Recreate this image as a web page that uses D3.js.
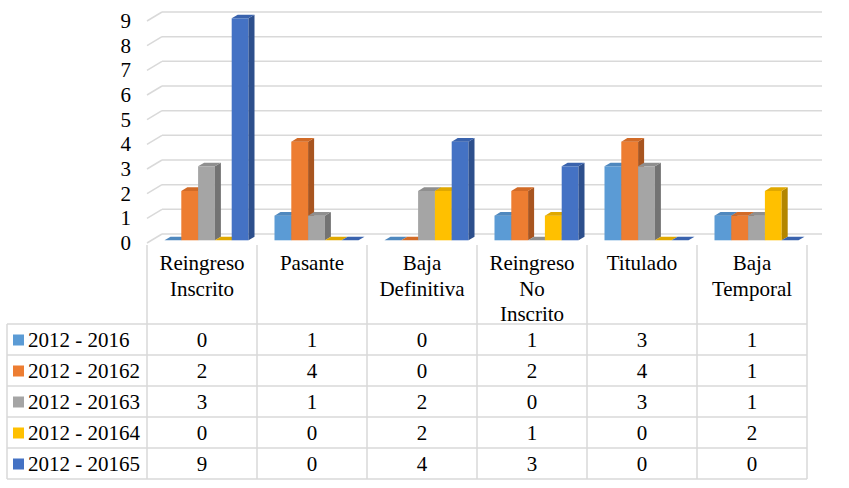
<!DOCTYPE html>
<html>
<head>
<meta charset="utf-8">
<script src="https://cdn.jsdelivr.net/npm/d3@7"></script>
<style>
  body { margin: 0; background: #fff; }
</style>
</head>
<body>
<svg id="chart"></svg>
<script>
const categories = ["Reingreso Inscrito", "Pasante", "Baja Definitiva", "Reingreso No Inscrito", "Titulado", "Baja Temporal"];
const categoryLines = [["Reingreso", "Inscrito"], ["Pasante"], ["Baja", "Definitiva"], ["Reingreso", "No", "Inscrito"], ["Titulado"], ["Baja", "Temporal"]];
const seriesNames = ["2012 - 2016", "2012 - 20162", "2012 - 20163", "2012 - 20164", "2012 - 20165"];
const s1 = [0, 1, 0, 1, 3, 1];
const s2 = [2, 4, 0, 2, 4, 1];
const s3 = [3, 1, 2, 0, 3, 1];
const s4 = [0, 0, 2, 1, 0, 2];
const s5 = [9, 0, 4, 3, 0, 0];
const yTicks = [0, 1, 2, 3, 4, 5, 6, 7, 8, 9];

const series = [s1, s2, s3, s4, s5];
const front = ["#5B9BD5", "#ED7D31", "#A5A5A5", "#FFC000", "#4472C4"];
const top_ = ["#4F88BE", "#D26B27", "#8F8F8F", "#E0A800", "#3A63AD"];
const side = ["#3E6E9C", "#A85520", "#737373", "#B38600", "#2D4F8C"];

const W = 849, H = 488;
const depth = { dx: 15, dy: -9 };
const f0 = 0.3, f1 = 0.7;
const FONT = "'Times New Roman', Tinos, 'DejaVu Serif', serif";

const svg = d3.select("#chart").attr("width", W).attr("height", H)
  .style("font-family", FONT).style("font-size", "21px");

const x = d3.scaleBand().domain(categories).range([147, 807]);
const xs = d3.scaleBand().domain(d3.range(5)).range([13, 97]);
const y = d3.scaleLinear().domain([0, 9]).range([243, 21]);

const grid = "#D9D9D9";

// back wall gridlines + left wall diagonals
const g = svg.append("g");
yTicks.forEach(v => {
  const yf = y(v), yb = y(v) + depth.dy;
  g.append("line").attr("x1", 147).attr("y1", yf).attr("x2", 147 + depth.dx).attr("y2", yb)
    .attr("stroke", grid).attr("stroke-width", 1.5);
  g.append("line").attr("x1", 147 + depth.dx).attr("y1", yb).attr("x2", 807 + depth.dx).attr("y2", yb)
    .attr("stroke", grid).attr("stroke-width", 1.5);
});

// y axis labels
svg.append("g").selectAll("text").data(yTicks).join("text")
  .attr("x", 131).attr("y", d => y(d) + 7)
  .attr("text-anchor", "end")
  .text(d => d);

// bars
const bars = svg.append("g");
categories.forEach((c, ci) => {
  series.forEach((s, si) => {
    const v = s[ci];
    const xl = x(c) + xs(si) + depth.dx * f0;
    const xr = xl + xs.bandwidth();
    const yb = y(0) + depth.dy * f0;
    const yt = y(v) + depth.dy * f0;
    const ddx = depth.dx * (f1 - f0), ddy = depth.dy * (f1 - f0);
    if (v > 0) {
      bars.append("rect").attr("x", xl).attr("y", yt).attr("width", xr - xl).attr("height", yb - yt)
        .attr("fill", front[si]);
      bars.append("path")
        .attr("d", `M${xr},${yt}L${xr + ddx},${yt + ddy}L${xr + ddx},${yb + ddy}L${xr},${yb}Z`)
        .attr("fill", side[si]);
    }
    bars.append("path")
      .attr("d", `M${xl},${yt}L${xr},${yt}L${xr + ddx},${yt + ddy}L${xl + ddx},${yt + ddy}Z`)
      .attr("fill", top_[si]);
  });
});

// data table
const rowTop = 324, rowH = 31;
const tbl = svg.append("g");
const nRows = seriesNames.length;
d3.range(nRows + 1).forEach(i => {
  tbl.append("line").attr("x1", 7).attr("x2", 807)
    .attr("y1", rowTop + i * rowH).attr("y2", rowTop + i * rowH)
    .attr("stroke", grid).attr("stroke-width", 1.5);
});
tbl.append("line").attr("x1", 7).attr("x2", 7).attr("y1", rowTop).attr("y2", rowTop + nRows * rowH)
  .attr("stroke", grid).attr("stroke-width", 1.5);
categories.concat([null]).forEach(c => {
  const xx = c ? x(c) : x.range()[1];
  tbl.append("line").attr("x1", xx).attr("x2", xx).attr("y1", 245).attr("y2", rowTop + nRows * rowH)
    .attr("stroke", grid).attr("stroke-width", 1.5);
});

// header labels
categories.forEach((c, ci) => {
  categoryLines[ci].forEach((ln, li) => {
    tbl.append("text").attr("x", x(c) + x.bandwidth() / 2).attr("y", 270 + li * 25.5)
      .attr("text-anchor", "middle").text(ln);
  });
});

// legend keys and values
seriesNames.forEach((name, si) => {
  const cy = rowTop + si * rowH + rowH / 2;
  tbl.append("rect").attr("x", 13).attr("y", cy - 5).attr("width", 11).attr("height", 11).attr("fill", front[si]);
  tbl.append("text").attr("x", 28).attr("y", cy + 7).text(name);
  categories.forEach((c, ci) => {
    tbl.append("text").attr("x", x(c) + x.bandwidth() / 2).attr("y", cy + 7)
      .attr("text-anchor", "middle").text(series[si][ci]);
  });
});
</script>
</body>
</html>
